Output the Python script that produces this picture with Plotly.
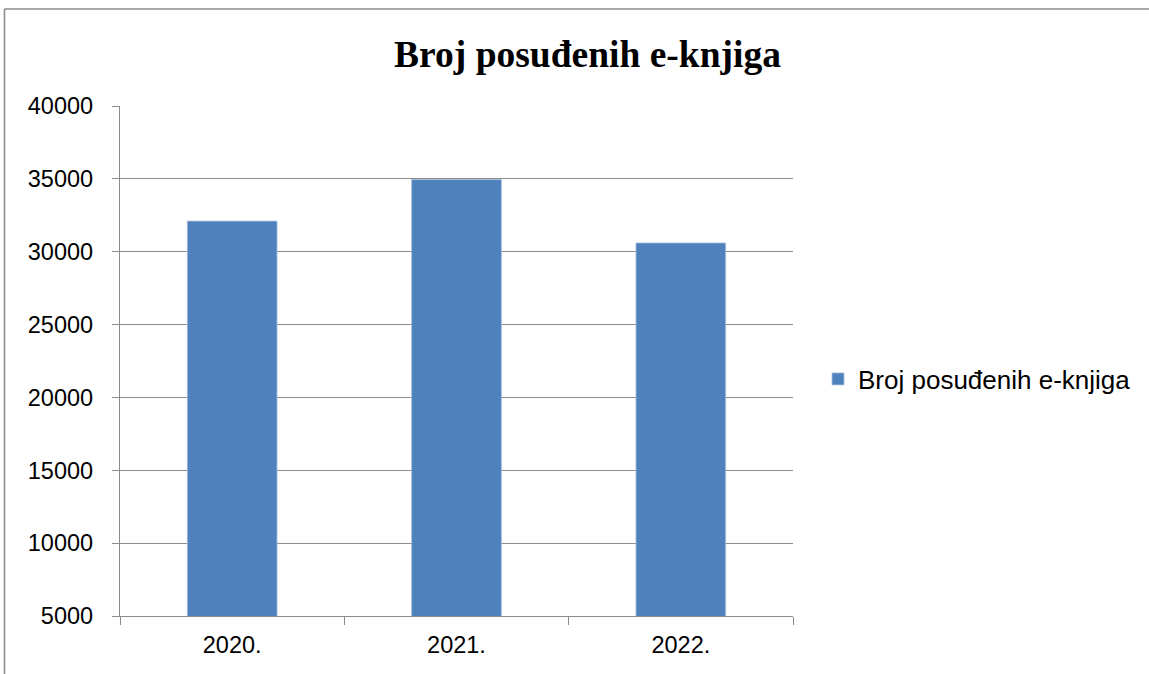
import plotly.graph_objects as go

categories = ["2020.", "2021.", "2022."]
values = [32100, 34950, 30600]
series_name = "Broj posuđenih e-knjiga"
title_text = "Broj posuđenih e-knjiga"

W, H = 1149, 674
L, T = 120, 106
R = W - 793
B = H - 616

fig = go.Figure()
fig.add_trace(go.Bar(
    x=categories, y=values, name=series_name,
    marker=dict(color="#4F81BD", line=dict(color="#A7BFDE", width=0.8)),
    showlegend=True,
))

pw = W - L - R
ph = H - T - B

def px_x(p):
    return (p - L) / pw

def px_y(p):
    return (H - B - p) / ph

border = dict(color="#8c8c8c", width=1.6)
# chart-area border: only the top and left edges fall inside the picture
fig.add_shape(type="line", xref="paper", yref="paper",
              x0=px_x(4.5), x1=px_x(W + 5), y0=px_y(9), y1=px_y(9),
              line=border, layer="above")
fig.add_shape(type="line", xref="paper", yref="paper",
              x0=px_x(4.5), x1=px_x(4.5), y0=px_y(9), y1=px_y(H + 5),
              line=border, layer="above")

fig.update_layout(
    width=W, height=H,
    margin=dict(l=L, r=R, t=T, b=B),
    paper_bgcolor="white", plot_bgcolor="white",
    bargap=0.6,
    title=dict(text="<b>" + title_text + "</b>", x=587.5 / W, xanchor="center",
               xref="container", y=1 - 54 / H, yref="container", yanchor="middle",
               font=dict(family="Liberation Serif, Times New Roman, serif", size=37.5, color="black")),
    legend=dict(x=px_x(818), y=px_y(379), xanchor="left", yanchor="middle",
                font=dict(family="Liberation Sans, Arial, sans-serif", size=26, color="black"),
                bgcolor="rgba(0,0,0,0)"),
    xaxis=dict(
        type="category",
        showline=True, linecolor="#8c8c8c", linewidth=1.3,
        ticks="outside", ticklen=8, tickcolor="#8c8c8c", tickwidth=1.3,
        tickson="boundaries",
        showgrid=False,
        tickfont=dict(family="Liberation Sans, Arial, sans-serif", size=23.5, color="black"),
        ticklabelstandoff=8,
        range=[-0.5, 2.5],
    ),
    yaxis=dict(
        range=[5000, 40000], dtick=5000, tick0=5000,
        showline=True, linecolor="#8c8c8c", linewidth=1.3,
        ticks="outside", ticklen=7, tickcolor="#8c8c8c", tickwidth=1.3,
        showgrid=True, gridcolor="#8c8c8c", gridwidth=1.3,
        zeroline=False,
        tickformat="d",
        tickfont=dict(family="Liberation Sans, Arial, sans-serif", size=23.5, color="black"),
        ticklabelstandoff=14,
    ),
)

post = ("document.documentElement.style.margin='0';"
        "document.documentElement.style.overflow='hidden';"
        "document.body.style.margin='0';"
        "document.body.style.overflow='hidden';")

fig.write_html("out.html", post_script=post, config={"displayModeBar": False})
